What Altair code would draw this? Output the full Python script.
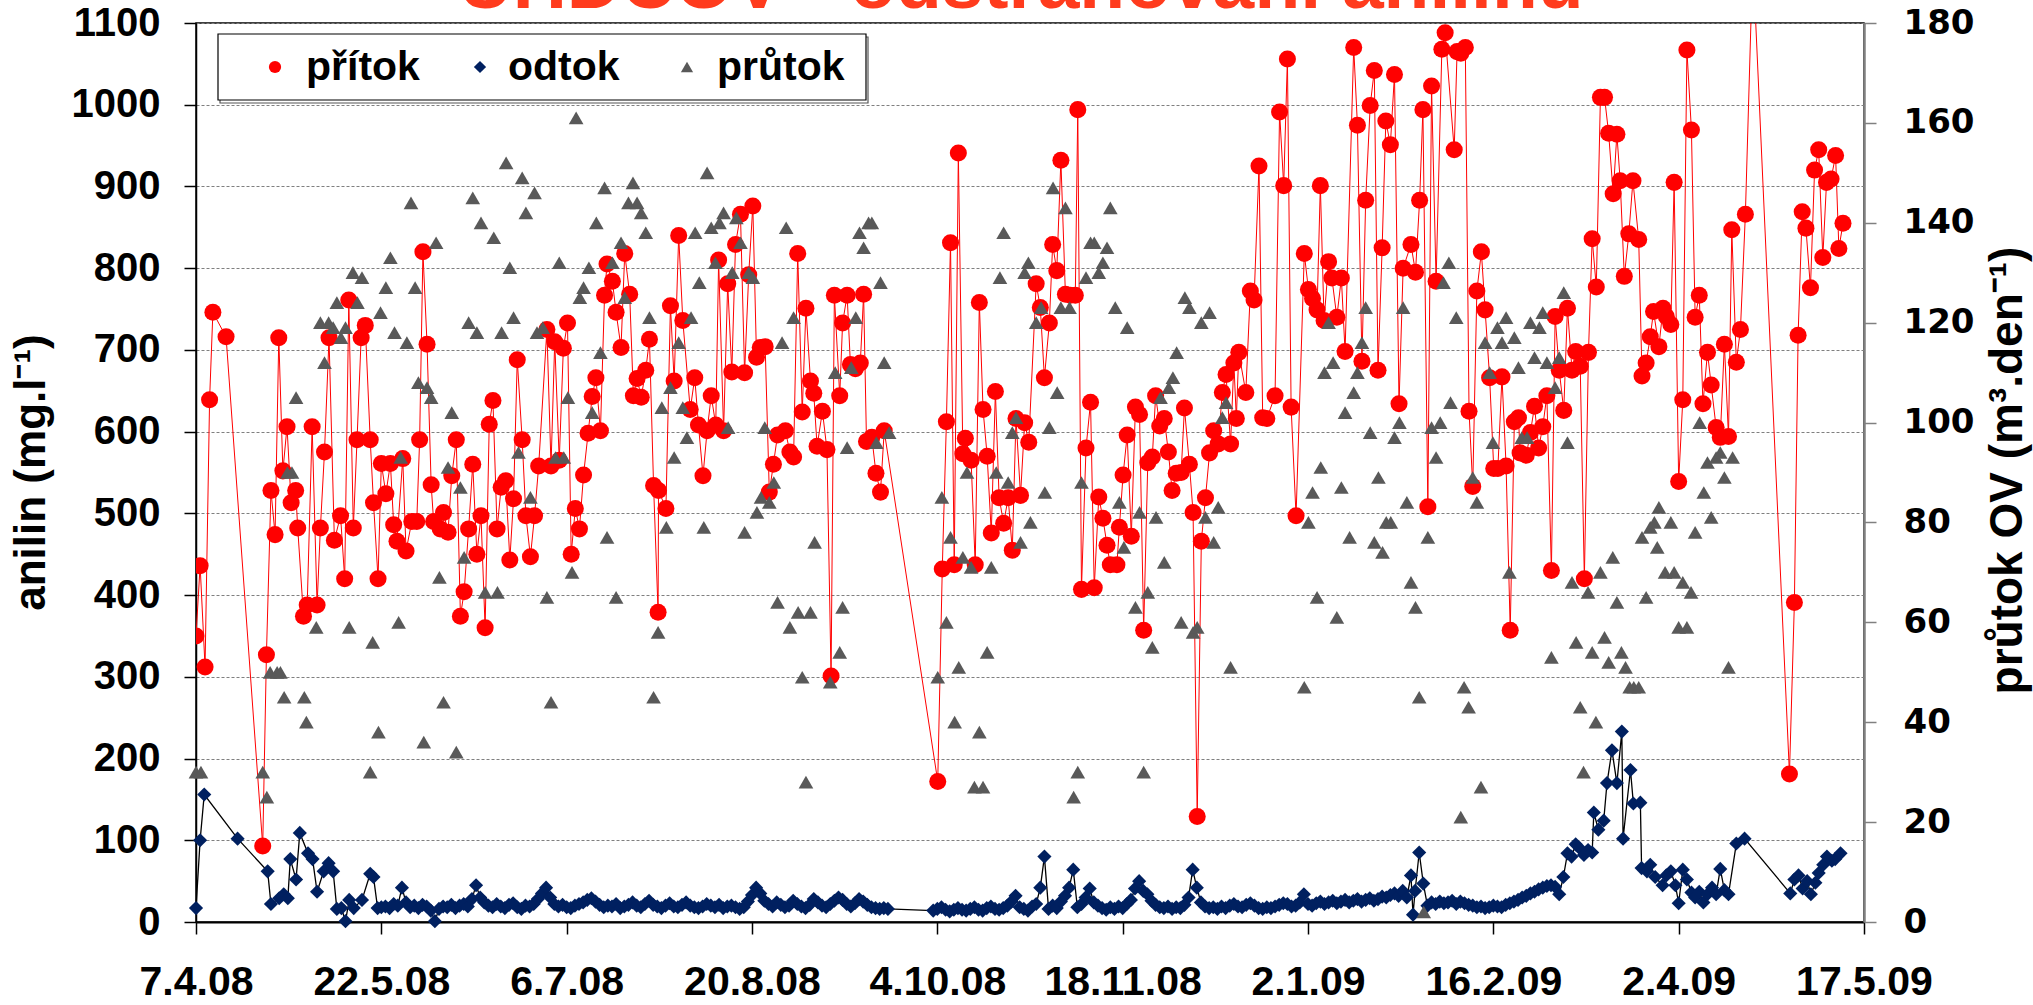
import altair as alt
import pandas as pd

BASE = pd.Timestamp("2008-04-07")

# ---- přítok (inflow aniline, mg/l) : day offset from 7.4.2008, value
prit_day = [0, 1, 2.2, 3.3, 4.1, 7.3, 16.2, 17.1, 18.2, 19.2, 20.1, 21.1, 22.1, 23.1, 24.2, 24.7, 26.1, 27, 28.2, 29.4,
            30.2, 31.2, 32.3, 33.6, 35.1, 36.1, 37.1, 38.2, 39.1, 40.1, 41.1, 42.3, 43.1, 44.2, 45, 46.1, 47.2, 48, 48.8, 50.2,
            51, 52.4, 53.6, 54.3, 55.1, 56.1, 57.1, 57.7, 59.3, 60.1, 61.2, 62.1, 63.2, 64.2, 65.1, 66.2, 67.2, 68.2, 69.2, 70.2,
            71.2, 72.1, 73.1, 74.1, 75.2, 76.2, 77.1, 78, 79.2, 80.1, 81.2, 82.2, 83.2, 85.2, 86.2, 87.1, 88.2, 89.2, 90.2, 91.1,
            92.1, 93.1, 94.1, 95.2, 96.2, 97.1, 98.2, 99.2, 99.8, 101.1, 102, 103.2, 104.1, 105.3, 106.2, 107.1, 108.1, 109.2, 110.1, 111.1,
            112.2, 112.3, 114.1, 115.2, 116.1, 117.2, 118.2, 120, 121.1, 122, 123.1, 124.1, 125.1, 126.2, 126.9, 128.1, 129.1, 130.1, 131, 132.2,
            133.2, 134.2, 135.2, 136.1, 137, 138.2, 139.2, 140.2, 141.2, 143.1, 144.2, 145.1, 146.1, 147.2, 148.1, 149.2, 150, 150.8, 152.1, 153.2,
            154.2, 155, 156.3, 157, 158.1, 158.9, 160.1, 161.3, 162.1, 162.8, 164.1, 165.1, 166.2, 167.1, 180.1, 181.2, 182.2, 183.2, 184.1, 185.1,
            186.2, 186.8, 188.2, 189.2, 190.2, 191.1, 192.1, 193.1, 194.1, 195, 196.1, 197.2, 198.2, 199.1, 200.2, 201.2, 202.2, 204, 205, 206,
            207.2, 208, 209, 210, 211.1, 212.3, 213.5, 214.1, 215, 216.1, 217.2, 218.1, 219.2, 220.2, 221.2, 222, 223.6, 224.2, 225.1, 226.1,
            227.1, 228.1, 229.1, 230.1, 231.1, 232.2, 233, 234, 235.1, 236.1, 237, 238, 239.2, 240, 241.2, 242.1, 243.1, 244.1, 245.1, 246.1,
            247.1, 248.2, 249.2, 250.1, 251.2, 252, 252.6, 253.2, 254.9, 256, 256.9, 258.1, 259, 260, 262, 263.1, 264.1, 265, 265.9, 267.1,
            269.1, 270.1, 271.1, 272.2, 273, 273.9, 275, 275.8, 277, 278.1, 279, 281.1, 282, 283.1, 284, 285.1, 286.1, 287, 288, 288.9,
            290, 291, 292.1, 293.1, 295, 296.1, 297.1, 297.9, 299.1, 300, 301.1, 302.5, 303.3, 305.5, 306.2, 307.1, 308.2, 309.1, 310, 311,
            312.1, 313, 314.1, 315.1, 316.1, 317.1, 318.1, 319.1, 320.1, 321.1, 321.5, 323, 324, 325, 326, 327, 328, 329.1, 330, 331,
            332.1, 333, 334.1, 335, 336.1, 337.1, 338.1, 339, 340, 341, 342, 343, 344.1, 345, 345.8, 346.8, 347.9, 348.9, 350.3, 351.1,
            352.1, 353.1, 353.9, 355.2, 356.2, 357, 358.1, 358.9, 360, 361, 362, 363.1, 364, 365, 365.9, 367, 367.9, 369.1, 370.1, 371.1,
            372.1, 372.9, 374, 375, 376.2, 378, 386.9, 388.1, 389, 390, 390.9, 392, 393, 394, 395, 395.9, 397, 398.1, 398.9, 399.9]
prit_val = [350, 436, 312, 639, 746, 716, 93, 327, 528, 474, 715, 552, 606, 513, 528, 482, 374, 388, 606, 388,
            482, 575, 715, 467, 497, 420, 761, 482, 590, 715, 730, 590, 513, 420, 561, 524, 561, 486, 466, 567,
            454, 490, 490, 590, 820, 707, 535, 490, 481, 501, 477, 546, 590, 374, 404, 481, 560, 450, 497, 360,
            609, 638, 481, 532, 540, 443, 518, 688, 590, 497, 447, 497, 558, 725, 558, 710, 565, 702, 733, 450,
            506, 481, 547, 598, 643, 666, 601, 767, 805, 784, 746, 703, 818, 768, 644, 665, 642, 675, 713, 534,
            379, 528, 506, 754, 662, 840, 736, 627, 666, 608, 546, 601, 644, 608, 810, 601, 781, 673, 829, 866,
            672, 792, 876, 691, 703, 704, 526, 560, 596, 601, 575, 569, 818, 624, 751, 662, 647, 582, 625, 578,
            301, 767, 644, 733, 767, 682, 677, 684, 768, 588, 593, 549, 526, 601, 172, 432, 612, 831, 437, 941,
            573, 592, 565, 437, 758, 627, 570, 476, 649, 519, 488, 519, 455, 616, 522, 611, 587, 781, 752, 666,
            733, 829, 797, 932, 768, 767, 767, 994, 407, 580, 636, 409, 520, 494, 461, 437, 437, 483, 547, 596,
            472, 630, 621, 357, 562, 569, 644, 607, 616, 575, 528, 549, 550, 629, 560, 501, 129, 466, 519, 574,
            601, 585, 648, 670, 585, 684, 616, 697, 648, 772, 761, 925, 617, 616, 644, 991, 901, 1056, 630, 497,
            818, 774, 763, 749, 901, 736, 808, 788, 740, 788, 698, 1070, 975, 686, 883, 999, 1042, 675, 825, 980,
            951, 1037, 634, 800, 829, 795, 883, 994, 508, 1023, 784, 1068, 1088, 945, 1065, 1063, 1070, 625, 533, 772,
            820, 749, 666, 555, 555, 667, 558, 357, 612, 617, 574, 571, 599, 631, 580, 606, 644, 430, 741, 675,
            626, 751, 675, 698, 680, 420, 697, 836, 777, 1009, 1009, 965, 891, 964, 907, 790, 842, 907, 835, 668,
            684, 716, 747, 704, 751, 741, 731, 905, 539, 639, 1067, 969, 740, 767, 634, 697, 657, 605, 593, 707,
            594, 847, 685, 725, 866, 1180, 181, 391, 718, 869, 849, 776, 920, 945, 813, 905, 909, 938, 824, 855]

# ---- odtok (outflow aniline, mg/l)
odt_day = ([0, 1, 2, 10.1, 17.4, 18.2, 20.2, 21.3, 22.3, 22.9, 24.3, 25.2, 27.2, 28.3, 29.4, 31, 32.2, 33.3, 34.2, 35.3,
            36.3, 37.2, 38.3, 40.3, 42.3, 43.1, 44.1]
           + list(range(45, 169)) + list(range(179, 295))
           + [295, 295.5, 296, 297, 298, 299, 300, 301, 302, 303]
           + list(range(304, 333))
           + [333, 334, 335, 336, 337, 338, 339, 339.4, 340.5, 341.8, 342.6, 343.8, 345, 346.2, 346.5, 348.3, 349, 350.7, 351, 352.3,
              353.1, 354.3, 356.1, 357, 358.1, 359.2, 360, 361, 362, 363.1, 364, 365, 366, 367, 368.1, 369.1, 370.1, 371.1, 372.1, 374,
              376, 387.1, 388.1, 389.1, 390.1, 391.2, 392.1, 393.2, 394, 395.1, 396, 397.2, 398, 399.3])
odt_val = [17, 100, 156, 102, 62, 22, 29, 34, 29, 77, 52, 109, 84, 77, 37, 62, 72, 62, 16, 17,
           1, 27, 17, 27, 59, 55, 17,
           # 45 .. 168
           18, 19, 17, 22, 20, 42, 24, 18, 20, 17, 21, 19, 14, 1, 16, 19, 18, 21, 17, 20,
           22, 19, 28, 45, 30, 24, 20, 18, 22, 19, 17, 21, 23, 18, 16, 20, 19, 22, 28, 35,
           42, 30, 22, 19, 21, 18, 17, 20, 22, 24, 27, 29, 25, 21, 18, 20, 19, 22, 17, 19,
           21, 24, 20, 18, 22, 26, 21, 19, 17, 20, 23, 19, 18, 21, 24, 20, 18, 17, 19, 22,
           20, 18, 21, 17, 19, 20, 18, 16, 18, 25, 33, 42, 35, 26, 22, 19, 24, 21, 18, 20,
           26, 22, 19, 17, 21, 28, 24, 20, 18, 22, 26, 30, 27, 22, 19, 23, 28, 25, 21, 18,
           17, 16, 17, 16,
           # 179 .. 294
           14, 16, 18, 15, 13, 15, 17, 15, 14, 16, 18, 15, 14, 17, 19, 16, 15, 17, 20, 25,
           32, 18, 16, 14, 19, 22, 42, 80, 16, 20, 17, 25, 32, 42, 64, 18, 22, 30, 41, 24,
           20, 17, 15, 18, 16, 19, 17, 22, 27, 41, 50, 38, 34, 26, 21, 18, 17, 19, 16, 18,
           17, 21, 30, 64, 42, 24, 19, 17, 18, 16, 19, 17, 20, 22, 19, 18, 21, 23, 20, 17,
           16, 18, 17, 19, 21, 23, 22, 19, 20, 24, 34, 22, 20, 23, 25, 22, 24, 26, 23, 25,
           27, 24, 26, 28, 25, 27, 29, 26, 28, 31, 30, 33, 35, 32, 38, 30,
           # 295 .. 303
           57, 9, 38, 85, 47, 20, 24, 22, 25, 23,
           # 304 .. 332
           24, 26, 22, 25, 23, 21, 20, 18, 19, 17, 18, 20, 19, 18, 21, 23, 25, 27, 30, 32,
           35, 37, 40, 42, 44, 45, 43, 34, 55,
           # 333 ..
           84, 80, 95, 90, 82, 88, 85, 134, 113, 124, 170, 210, 170, 233, 102, 186, 145, 146, 66, 62,
           70, 55, 45, 57, 62, 45, 23, 64, 52, 36, 30, 37, 24, 34, 42, 34, 65, 39, 34, 96,
           102, 35, 52, 57, 41, 50, 34, 48, 60, 70, 80, 75, 77, 84]

# ---- průtok OV (flow, m3/day, right axis)
prut_day = [0, 1.2, 16.2, 17.2, 18, 19.7, 20.5, 21.4, 22.2, 23.3, 24.3, 26.3, 26.8, 29.2, 30.2, 31.2, 32.2, 33.3, 34.2, 35.2,
            36.3, 37.2, 38.1, 39.2, 40.3, 42.3, 42.9, 44.3, 44.8, 46.1, 47.2, 48.2, 49.2, 49.7, 51.2, 52.2, 53.2, 54, 55.3, 56.1,
            57.1, 58.3, 59.1, 60.1, 61.2, 62.1, 63.2, 64.2, 65.1, 66.2, 67.2, 68.2, 69.2, 70.2, 72.3, 73.2, 74.2, 75.3, 76.2, 77.1,
            78.3, 79.2, 80.1, 81.2, 82.2, 82.8, 84.2, 85.2, 86.2, 87.3, 88.2, 89.3, 90.3, 91.3, 92.3, 93.2, 94.1, 95.4, 96.2, 97.2,
            98.2, 99.2, 99.8, 101.1, 102, 103.2, 104.1, 105, 106.1, 107.1, 108.1, 109.2, 110.1, 111.1, 112.2, 113.1, 114.2, 115.2, 116.1, 117.2,
            118.2, 119.2, 120.2, 121.2, 122.2, 123.3, 124.1, 125.1, 126.1, 127.1, 128.1, 129.2, 130.2, 131.2, 132.2, 133.2, 134.2, 135.2, 136.2, 137.2,
            138.1, 139.2, 140.3, 141.2, 142.3, 143.3, 144.2, 145.1, 146.2, 147.2, 148.1, 149.2, 150.2, 154, 155.2, 156.3, 157, 158.1, 159.1, 160.2,
            161.1, 162.1, 163.3, 164.1, 165.2, 166.2, 167.1, 168.3, 180.1, 181.1, 182.2, 183.2, 184.2, 185.2, 186.2, 187.2, 188.2, 189, 190.2, 191.1,
            192.1, 193.1, 194.3, 195.2, 196.1, 197.2, 198.2, 199.1, 200.2, 201.2, 202.1, 202.6, 204, 205.2, 206.1, 207.2, 208.1, 209.1, 210, 211.1,
            212.1, 213.1, 214.1, 215, 216.1, 217.2, 218.1, 219.2, 220.2, 221.2, 222, 223.2, 224.2, 225.3, 226.1, 228.1, 229.1, 230.1, 231.1, 232.2,
            233.1, 234.2, 235.1, 236.2, 237.2, 238.1, 239.2, 240.1, 241.2, 242.1, 243.1, 244.1, 245.1, 246.1, 247.1, 248.2, 249.2, 250.1, 251.2, 269.1,
            270.1, 271.1, 272.2, 273.1, 274, 275, 276.1, 277, 278.1, 279, 280.1, 281.1, 282, 283.1, 284, 285.1, 286.1, 287.1, 288.1, 289,
            290.1, 291, 292.2, 293.1, 294, 295, 296.1, 297, 298.1, 299.1, 300, 301.1, 302.1, 302.9, 304.2, 304.6, 306, 307.1, 307.9, 309,
            310, 311, 312, 313, 314.1, 314.9, 316, 317.1, 318.1, 318.9, 320.1, 321.1, 321.9, 323.2, 324, 325, 326.2, 327, 328, 329.1,
            330, 331, 332.1, 333, 334.1, 335.1, 336.1, 336.9, 338, 339, 339.9, 341, 342, 343, 344, 345, 346.1, 347.1, 348.1, 349.1,
            350.3, 351.1, 352.1, 353.1, 354.1, 354.8, 355.2, 356.7, 358.1, 358.9, 360, 361, 362, 363, 364, 365.1, 366.1, 367, 367.9, 369.1,
            370.1, 371.1, 372.1, 373.1]
prut_val = [30, 30, 30, 25, 50, 50, 50, 45, 90, 90, 105, 45, 40, 59, 120, 112, 120, 119, 124, 117,
            119, 59, 130, 124, 129, 30, 56, 38, 122, 127, 133, 118, 60, 93, 116, 144, 127, 108, 36, 107,
            105, 136, 69, 44, 91, 102, 34, 87, 73, 120, 145, 118, 140, 66, 137, 66, 118, 152, 131, 121,
            94, 149, 142, 85, 146, 118, 119, 65, 44, 93, 132, 93, 105, 70, 161, 125, 127, 131, 102, 140,
            114, 147, 77, 132, 65, 136, 125, 144, 148, 144, 142, 138, 121, 45, 58, 103, 79, 107, 93, 116,
            103, 97, 121, 138, 128, 79, 150, 139, 132, 140, 142, 99, 130, 141, 136, 78, 130, 129, 82, 85,
            99, 84, 88, 64, 116, 139, 59, 121, 62, 49, 28, 62, 76, 48, 110, 54, 63, 95, 111, 121,
            138, 135, 140, 140, 96, 128, 112, 98, 49, 85, 60, 77, 40, 51, 73, 90, 71, 27, 38, 27,
            54, 71, 90, 129, 138, 88, 98, 101, 76, 130, 132, 80, 120, 123, 86, 99, 147, 106, 123, 143,
            123, 25, 30, 88, 129, 136, 136, 130, 132, 135, 143, 123, 84, 75, 119, 63, 82, 30, 66, 55,
            81, 105, 72, 107, 109, 114, 60, 125, 123, 58, 59, 120, 81, 122, 76, 83, 101, 104, 51, 47,
            80, 86, 65, 91, 110, 120, 112, 61, 87, 102, 77, 106, 110, 116, 123, 98, 76, 89, 74, 80,
            80, 97, 100, 123, 84, 68, 63, 45, 2, 77, 99, 93, 100, 128, 132, 104, 121, 21, 47, 43,
            89, 84, 27, 116, 110, 96, 119, 116, 121, 70, 117, 111, 97, 97, 120, 113, 119, 122, 112, 53,
            107, 113, 126, 96, 68, 56, 43, 30, 66, 54, 40, 70, 57, 52, 73, 64, 54, 51, 47, 47,
            47, 77, 65, 79, 80, 75, 83, 70, 80, 70, 59, 68, 59, 66, 78, 100, 86, 92, 81, 93,
            94, 89, 51, 93]

series_names = ["přítok", "odtok", "průtok"]
series_colors = ["#FF0000", "#002060", "#595959"]
series_shapes = ["circle", "diamond", "triangle-up"]
title_text = "UHDCOV  -  odstraňování anilinu"
left_title = "anilin (mg.l⁻¹)"
right_title = "průtok OV (m³.den⁻¹)"
tick_step_days = 45
n_ticks = 10


def frame(days, vals, name):
    return pd.DataFrame({
        "date": BASE + pd.to_timedelta(pd.Series(days, dtype=float), unit="D"),
        "value": vals,
        "series": name,
    })


df_prit = frame(prit_day, prit_val, series_names[0])
df_odt = frame(odt_day, odt_val, series_names[1])
df_prut = frame(prut_day, prut_val, series_names[2])


def dt(ts):
    return alt.DateTime(year=ts.year, month=ts.month, date=ts.day)


ticks = [dt(BASE + pd.Timedelta(days=tick_step_days * k)) for k in range(n_ticks)]

FONT = "Liberation Sans"

x = alt.X("date:T",
          scale=alt.Scale(domain=[ticks[0], ticks[-1]], nice=False),
          axis=alt.Axis(values=ticks, format="%-d.%-m.%y", title=None, grid=False,
                        labelFlush=False, labelOverlap=False, labelBound=False,
                        tickSize=12, tickColor="black", tickWidth=1.5,
                        domainColor="black", domainWidth=2,
                        labelFontSize=41, labelPadding=28, labelFont=FONT,
                        labelFontWeight="bold", labelColor="black"))

yL = alt.Y("value:Q",
           scale=alt.Scale(domain=[0, 1100], nice=False),
           axis=alt.Axis(values=list(range(0, 1101, 100)), format="d", title=left_title,
                         grid=True, gridDash=[3, 2], gridColor="#7F7F7F", gridWidth=1,
                         tickSize=12, tickColor="black", tickWidth=1.5,
                         domainColor="black", domainWidth=1.5,
                         labelFontSize=40, labelPadding=24, labelFont=FONT,
                         labelFontWeight="bold", labelColor="black",
                         titleFont=FONT, titleFontSize=44, titleFontWeight="bold",
                         titleColor="black", titleAngle=270, titleX=-165, titleY=449,
                         titleAlign="center", titleBaseline="middle"))

yR = alt.Y("value:Q",
           scale=alt.Scale(domain=[0, 180], nice=False),
           axis=alt.Axis(orient="right", values=list(range(0, 181, 20)), format="d", title=right_title,
                         grid=False, tickSize=12, tickColor="#808080", tickWidth=1.5,
                         domainColor="#808080", domainWidth=2.5,
                         labelFontSize=34, labelPadding=27, labelFont="DejaVu Sans",
                         labelFontWeight="bold", labelColor="black",
                         titleFont=FONT, titleFontSize=46, titleFontWeight="bold",
                         titleColor="black", titleAngle=270, titleX=143, titleY=447,
                         titleAlign="center", titleBaseline="middle"))

color = alt.Color("series:N", scale=alt.Scale(domain=series_names, range=series_colors), legend=None)
shape = alt.Shape("series:N", scale=alt.Scale(domain=series_names, range=series_shapes), legend=None)

prit_line = alt.Chart(df_prit).mark_line(color="#FF0000", strokeWidth=1, clip=True).encode(x=x, y=yL)
prit_pts = alt.Chart(df_prit).mark_point(filled=True, size=290, opacity=1, strokeWidth=0, clip=True).encode(
    x=x, y=yL, color=color, shape=shape)
odt_line = alt.Chart(df_odt).mark_line(color="black", strokeWidth=1.3).encode(x=x, y=yL)
odt_pts = alt.Chart(df_odt).mark_point(filled=True, size=200, opacity=1, strokeWidth=0).encode(
    x=x, y=yL, color=color, shape=shape)
title_mark = alt.Chart(pd.DataFrame({"t": [title_text]})).mark_text(
    font=FONT, fontSize=75, fontWeight="bold", color="#FF3B1D", align="center", baseline="alphabetic"
).encode(text="t:N", x=alt.value(825), y=alt.value(-15))

left = alt.layer(prit_line, prit_pts, odt_line, odt_pts, title_mark)
right = alt.Chart(df_prut).mark_point(filled=True, size=215, opacity=1, strokeWidth=0).encode(
    x=x, y=yR, color=color, shape=shape)

# ---- legend box (drawn as marks, positions are layout constants)
LEG_X, LEG_Y, LEG_W, LEG_H = 22, 11, 648, 66
leg_df = pd.DataFrame({"k": [0]})
leg_shadow = alt.Chart(leg_df).mark_rect(fill="white", stroke="#555555", strokeWidth=1.2).encode(
    x=alt.value(LEG_X + 2), x2=alt.value(LEG_X + LEG_W + 2), y=alt.value(LEG_Y + 3), y2=alt.value(LEG_Y + LEG_H + 3))
leg_box = alt.Chart(leg_df).mark_rect(fill="white", stroke="black", strokeWidth=1.2).encode(
    x=alt.value(LEG_X), x2=alt.value(LEG_X + LEG_W), y=alt.value(LEG_Y), y2=alt.value(LEG_Y + LEG_H))
leg_sym_x = [79, 284, 491]
leg_txt_x = [110, 312, 521]
leg_layers = [leg_shadow, leg_box]
for i in range(3):
    leg_layers.append(alt.Chart(leg_df).mark_point(
        filled=True, shape=series_shapes[i], color=series_colors[i], size=150, opacity=1, strokeWidth=0
    ).encode(x=alt.value(leg_sym_x[i]), y=alt.value(LEG_Y + LEG_H / 2)))
    leg_layers.append(alt.Chart(pd.DataFrame({"t": [series_names[i]]})).mark_text(
        font=FONT, fontSize=41, fontWeight="bold", color="black", align="left", baseline="middle"
    ).encode(text="t:N", x=alt.value(leg_txt_x[i]), y=alt.value(LEG_Y + LEG_H / 2 + 1)))

chart = alt.layer(left, right, *leg_layers).resolve_scale(y="independent").properties(
    width=1668, height=899,
    autosize=alt.AutoSizeParams(type="none"),
    padding={"left": 196, "top": 23, "right": 169, "bottom": 83},
    background="white",
).configure_view(stroke="black", strokeWidth=1.5)

chart.save("out.html", embed_options={"renderer": "svg", "actions": False})
